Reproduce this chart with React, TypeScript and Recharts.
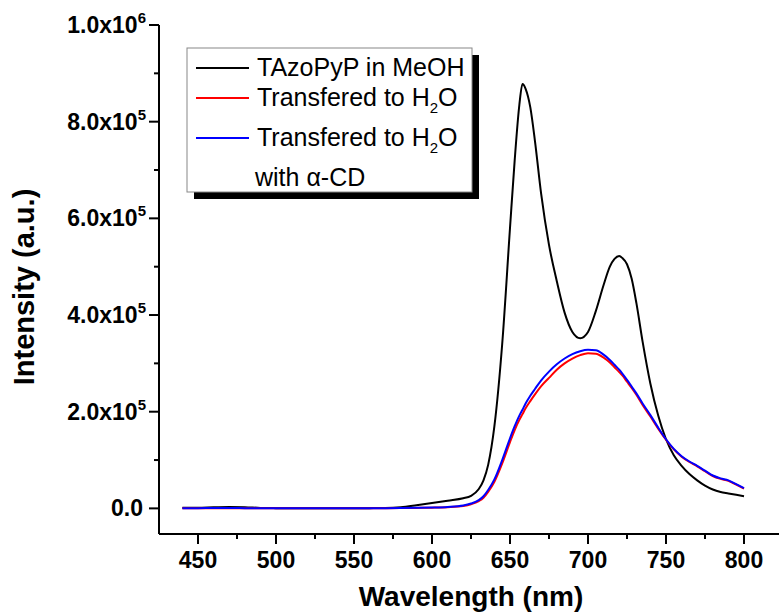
import { Legend, Line, LineChart, XAxis, YAxis } from "recharts";

const wavelengths = [
  440, 450, 460, 470, 480, 490, 500, 510, 520, 530, 540, 550, 560, 570, 580, 590, 600, 610, 620, 625,
  630, 633, 636, 640, 645, 650, 653, 656, 658, 660, 663, 666, 670, 675, 680, 685, 690, 695, 700, 705,
  710, 714, 717, 720, 722, 725, 728, 731, 735, 740, 745, 750, 755, 760, 765, 770, 775, 780, 785, 790,
  795, 800,
];

const meohValues = [
  1500, 1500, 2500, 3000, 2500, 1000, 500, 300, 300, 300, 300, 300, 500, 800, 2500, 6500, 11000, 16000, 21000, 26000,
  40000, 58000, 90000, 170000, 340000, 580000, 720000, 835000, 878000, 868000, 830000, 760000, 650000, 545000, 470000, 405000, 365000, 352000, 365000, 408000,
  462000, 500000, 516000, 522000, 518000, 505000, 475000, 425000, 345000, 258000, 192000, 143000, 110000, 88000, 71000, 58000, 47000, 39000, 34000, 31000,
  28000, 25000,
];

const waterValues = [
  500, 500, 500, 500, 500, 400, 300, 300, 300, 300, 300, 300, 400, 500, 600, 1000, 1500, 2500, 5000, 8500,
  15000, 22000, 34000, 55000, 93000, 137000, 162000, 183000, 195000, 207000, 222000, 236000, 253000, 270000, 287000, 300000, 310000, 317000, 321000, 320000,
  312000, 302000, 292000, 282000, 275000, 262000, 249000, 235000, 214000, 190000, 165000, 142000, 122000, 107000, 96000, 87000, 77000, 67000, 61000, 57000,
  49000, 41000,
];

const cdValues = [
  500, 500, 600, 600, 500, 400, 300, 300, 300, 300, 300, 300, 400, 500, 800, 1200, 1800, 3000, 6000, 10000,
  17000, 25000, 38000, 60000, 100000, 145000, 170000, 192000, 204000, 217000, 233000, 247000, 265000, 283000, 298000, 310000, 319000, 325000, 328000, 327000,
  318000, 307000, 297000, 287000, 279000, 266000, 252000, 238000, 217000, 193000, 167000, 143000, 123000, 108000, 97000, 88000, 78000, 68000, 62000, 58000,
  50000, 42000,
];

const xTicks = [450, 475, 500, 525, 550, 575, 600, 625, 650, 675, 700, 725, 750, 775, 800];
const yTicks = [0, 100000, 200000, 300000, 400000, 500000, 600000, 700000, 800000, 900000, 1000000];

const FONT = "'Liberation Sans', Arial, Helvetica, sans-serif";

const rows = wavelengths.map((wl, i) => ({
  wl,
  meoh: meohValues[i],
  water: waterValues[i],
  cd: cdValues[i],
}));

function XTick(props: any) {
  const { x, y, payload } = props;
  const v = payload.value as number;
  const major = v % 50 === 0;
  return (
    <g>
      <line x1={x} x2={x} y1={y} y2={y + (major ? 10 : 5)} stroke="#000" strokeWidth={2} />
      {major && (
        <text x={x} y={y + 34} textAnchor="middle" fontSize={23} fontWeight="bold" fontFamily={FONT} fill="#000">
          {v}
        </text>
      )}
    </g>
  );
}

function YTick(props: any) {
  const { x, y, payload } = props;
  const v = payload.value as number;
  const major = v % 200000 === 0;
  let label = null;
  if (major) {
    if (v === 0) {
      label = (
        <text x={x - 16} y={y + 8} textAnchor="end" fontSize={23} fontWeight="bold" fontFamily={FONT} fill="#000">
          0.0
        </text>
      );
    } else {
      const exp = Math.floor(Math.log10(v));
      const mant = v / Math.pow(10, exp);
      label = (
        <text x={x - 13} y={y + 8} textAnchor="end" fontSize={23} fontWeight="bold" fontFamily={FONT} fill="#000">
          {`${mant.toFixed(1)}x10`}
          <tspan dy={-10} fontSize={15}>
            {exp}
          </tspan>
        </text>
      );
    }
  }
  return (
    <g>
      <line x1={x - (major ? 10 : 5)} x2={x} y1={y} y2={y} stroke="#000" strokeWidth={2} />
      {label}
    </g>
  );
}

function LegendBox() {
  const txt = { fontSize: 25, fontFamily: FONT, fill: "#000" };
  return (
    <svg width={783} height={614} style={{ position: "absolute", left: 0, top: 0, pointerEvents: "none" }}>
      <rect x={194} y={55} width={285} height={144} fill="#000" />
      <rect x={187} y={48} width={285} height={144} fill="#fff" stroke="#888" strokeWidth={1} />
      <line x1={196} x2={249} y1={68} y2={68} stroke="#000" strokeWidth={2} />
      <text x={257} y={76} {...txt}>TAzoPyP in MeOH</text>
      <line x1={196} x2={249} y1={98} y2={98} stroke="#ff0000" strokeWidth={2} />
      <text x={257} y={106} {...txt}>
        Transfered to H<tspan dy={7} fontSize={15}>2</tspan>
        <tspan dy={-7}>O</tspan>
      </text>
      <line x1={196} x2={249} y1={138} y2={138} stroke="#0000ff" strokeWidth={2} />
      <text x={257} y={146} {...txt}>
        Transfered to H<tspan dy={7} fontSize={15}>2</tspan>
        <tspan dy={-7}>O</tspan>
      </text>
      <text x={255} y={186} {...txt}>with α-CD</text>
    </svg>
  );
}

export default function App() {
  return (
    <div style={{ position: "absolute", left: 0, top: 0, width: 779, height: 614, overflow: "hidden", background: "#fff" }}>
      <LineChart width={783} height={614} data={rows} margin={{ top: 25, right: 0, bottom: 0, left: 0 }}>
        <XAxis
          dataKey="wl"
          type="number"
          domain={[425, 825]}
          ticks={xTicks}
          interval={0}
          tickSize={0}
          tickMargin={0}
          tick={<XTick />}
          height={80}
          axisLine={{ stroke: "#000", strokeWidth: 2 }}
          tickLine={false}
        />
        <YAxis
          type="number"
          domain={[-53000, 1000000]}
          ticks={yTicks}
          interval={0}
          tickSize={0}
          tickMargin={0}
          tick={<YTick />}
          width={159}
          axisLine={{ stroke: "#000", strokeWidth: 2 }}
          tickLine={false}
        />
        <Line type="monotone" dataKey="meoh" stroke="#000000" strokeWidth={2} dot={false} isAnimationActive={false} />
        <Line type="monotone" dataKey="water" stroke="#ff0000" strokeWidth={2} dot={false} isAnimationActive={false} />
        <Line type="monotone" dataKey="cd" stroke="#0000ff" strokeWidth={2} dot={false} isAnimationActive={false} />
        <Legend
          layout="horizontal"
          verticalAlign="middle"
          align="center"
          content={() => <LegendBox />}
          wrapperStyle={{ position: "absolute", left: 0, top: 0, width: 783, height: 614 }}
        />
      </LineChart>
      <svg width={779} height={614} style={{ position: "absolute", left: 0, top: 0, pointerEvents: "none" }}>
        <text
          transform="translate(34, 287) rotate(-90)"
          textAnchor="middle"
          fontSize={29}
          fontWeight="bold"
          fontFamily={FONT}
          fill="#000"
        >
          Intensity (a.u.)
        </text>
        <text x={471} y={606} textAnchor="middle" fontSize={28} fontWeight="bold" fontFamily={FONT} fill="#000">
          Wavelength (nm)
        </text>
      </svg>
    </div>
  );
}
